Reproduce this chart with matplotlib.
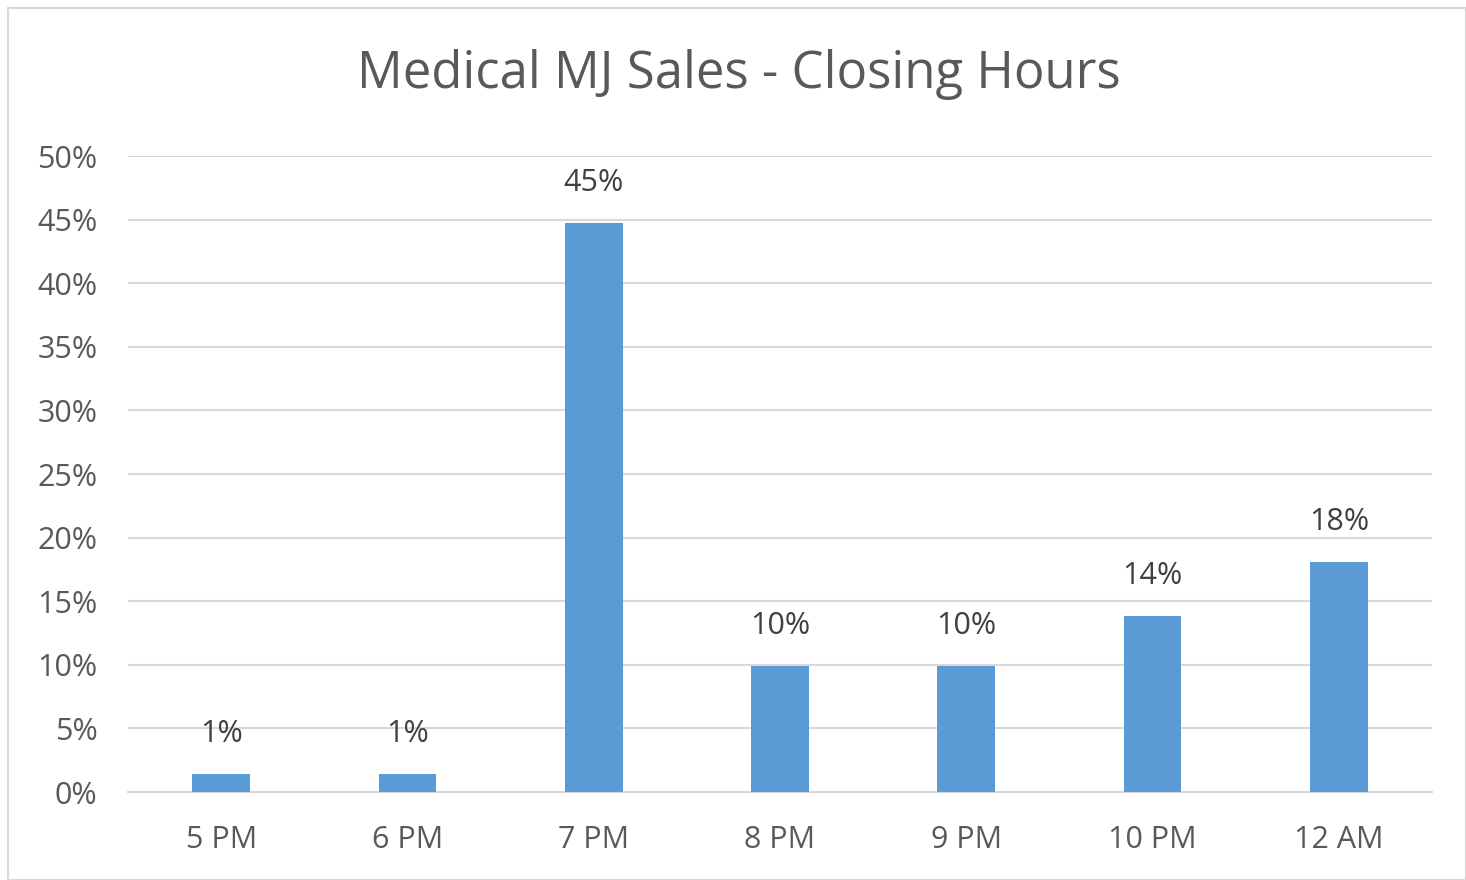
import matplotlib.pyplot as plt
from matplotlib.patches import Rectangle
import numpy as np

categories = ["5 PM", "6 PM", "7 PM", "8 PM", "9 PM", "10 PM", "12 AM"]
values = [1.4, 1.4, 44.7, 9.9, 9.9, 13.8, 18.1]
labels = ["1%", "1%", "45%", "10%", "10%", "14%", "18%"]
yticks = [0, 5, 10, 15, 20, 25, 30, 35, 40, 45, 50]

plt.rcParams['font.family'] = ['Open Sans', 'DejaVu Sans']
W, H = 1466, 880
fig = plt.figure(figsize=(W/100, H/100), dpi=100)
fig.patches.append(Rectangle((8/W, 0), (W-8)/W, (H-8)/H, transform=fig.transFigure,
                             fill=False, edgecolor='#d9d9d9', linewidth=1.5))
ax = fig.add_axes([128/W, 1-792/H, (1432-128)/W, (792-156)/H])
x = np.arange(len(categories))
ax.bar(x, values, width=0.31, color='#5b9bd5', zorder=3)
ax.set_xlim(-0.5, len(categories)-0.5)
ax.set_ylim(0, 50)
ax.set_yticks(yticks)
ax.set_yticklabels([f"{t}%" for t in yticks], va='center_baseline')
ax.set_xticks(x)
ax.set_xticklabels(categories)
ax.grid(axis='y', color='#d9d9d9', linewidth=1.5, zorder=0)
for s in ['top', 'right', 'left']:
    ax.spines[s].set_visible(False)
ax.spines['bottom'].set_color('#d9d9d9')
ax.spines['bottom'].set_linewidth(1.5)
ax.tick_params(axis='both', length=0, labelsize=22, colors='#595959')
ax.tick_params(axis='y', pad=22)
ax.tick_params(axis='x', pad=24)
for xi, v, l in zip(x, values, labels):
    ax.annotate(l, (xi, v), xytext=(0, 18), textcoords='offset points',
                ha='center', va='bottom', fontsize=22, color='#404040')
fig.text(739/W, 1-75/H, "Medical MJ Sales - Closing Hours", ha='center', va='center',
         fontsize=36.6, color='#595959')
fig.savefig('out.png', dpi=100)
